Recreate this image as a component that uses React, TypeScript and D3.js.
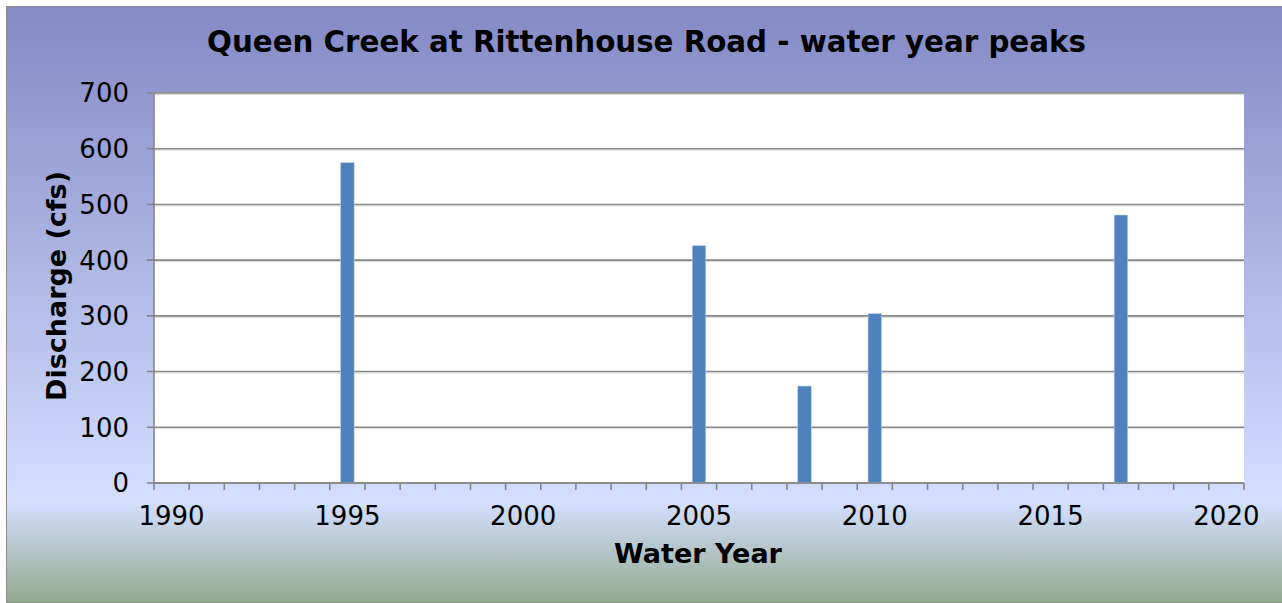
import React from "react";
import * as d3 from "d3";

const title = "Queen Creek at Rittenhouse Road - water year peaks";
const xTitle = "Water Year";
const yTitle = "Discharge (cfs)";
const years = d3.range(1990, 2021);
const peakYears = [1995, 2005, 2008, 2010, 2017];
const peakValues = [575, 426, 174, 304, 481];
const yTicks = [0, 100, 200, 300, 400, 500, 600, 700];
const xLabels = [1990, 1995, 2000, 2005, 2010, 2015, 2020];

export default function App() {
  const W = 1282, H = 603;
  const left = 154, right = 1244, top = 93, bottom = 483;
  const x = d3.scaleBand<number>().domain(years).range([left, right]).paddingInner(0).paddingOuter(0);
  const y = d3.scaleLinear().domain([0, 700]).range([bottom, top]);
  const bw = x.bandwidth();
  const barW = bw / 2.6;
  const font = "DejaVu Sans, sans-serif";
  return (
    <svg width={W} height={H} style={{ position: "absolute", left: 0, top: 0 }} fontFamily={font}>
      <defs>
        <linearGradient id="bg" x1="0" y1="0" x2="0" y2="1">
          <stop offset="0" stopColor="#8489c5" />
          <stop offset="0.83" stopColor="#d4dfff" />
          <stop offset="1" stopColor="#93a98e" />
        </linearGradient>
      </defs>
      <rect x={6.5} y={6.5} width={1280} height={596} fill="url(#bg)" stroke="#8c8c8c" strokeWidth={1} />
      <rect x={left} y={top} width={right - left} height={bottom - top} fill="#ffffff" />
      {yTicks.map((t) => (
        <g key={t}>
          {t > 0 && <line x1={left} x2={right} y1={y(t) + 1.5} y2={y(t) + 1.5} stroke="#dcdcdc" strokeWidth={1} />}
          <line x1={left - 7} x2={right} y1={y(t)} y2={y(t)} stroke="#868686" strokeWidth={1.6} />
          <text x={129} y={y(t)} dy="0.36em" textAnchor="end" fontSize={26} fill="#000">{t}</text>
        </g>
      ))}
      {peakYears.map((yr, i) => (
        <rect key={yr} x={(x(yr) as number) + bw / 2 - barW / 2} y={y(peakValues[i])} width={barW}
          height={bottom - y(peakValues[i])} fill="#4f81bd" stroke="#b9cde5" strokeWidth={0.6} />
      ))}
      <line x1={left} x2={left} y1={top} y2={bottom} stroke="#868686" strokeWidth={1.6} />
      <line x1={left} x2={right} y1={bottom} y2={bottom} stroke="#868686" strokeWidth={1.6} />
      {years.concat([2021]).map((yr, i) => {
        const xx = left + i * bw;
        return <line key={yr} x1={xx} x2={xx} y1={bottom} y2={bottom + 7} stroke="#868686" strokeWidth={1.6} />;
      })}
      {xLabels.map((yr) => (
        <text key={yr} x={(x(yr) as number) + bw / 2} y={525} textAnchor="middle" fontSize={26} fill="#000">{yr}</text>
      ))}
      <text x={646.5} y={52} textAnchor="middle" fontSize={29.3} fontWeight="bold" fill="#000">{title}</text>
      <text x={698} y={563} textAnchor="middle" fontSize={27} fontWeight="bold" fill="#000">{xTitle}</text>
      <text transform={`translate(66,286) rotate(-90)`} textAnchor="middle" fontSize={27} fontWeight="bold" fill="#000">{yTitle}</text>
    </svg>
  );
}
